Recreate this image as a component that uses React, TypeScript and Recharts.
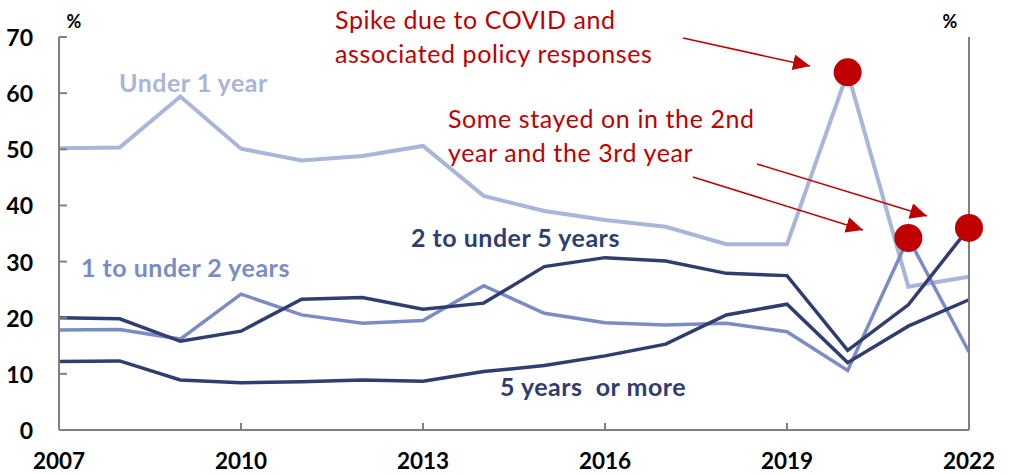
import React from "react";
import { LineChart, Line, XAxis, YAxis, ReferenceDot } from "recharts";

const years = [2007, 2008, 2009, 2010, 2011, 2012, 2013, 2014, 2015, 2016, 2017, 2018, 2019, 2020, 2021, 2022];
const under1 = [50.2, 50.3, 59.4, 50.1, 48.0, 48.8, 50.6, 41.7, 39.0, 37.4, 36.2, 33.1, 33.1, 63.7, 25.5, 27.3];
const oneToTwo = [17.8, 17.9, 16.2, 24.2, 20.5, 19.0, 19.5, 25.7, 20.8, 19.1, 18.7, 19.0, 17.5, 10.6, 34.2, 13.9];
const twoToFive = [20.0, 19.8, 15.8, 17.6, 23.3, 23.6, 21.5, 22.6, 29.1, 30.7, 30.1, 27.9, 27.5, 14.2, 22.3, 36.0];
const fivePlus = [12.2, 12.3, 8.9, 8.4, 8.6, 8.9, 8.7, 10.4, 11.5, 13.2, 15.3, 20.5, 22.4, 12.0, 18.5, 23.2];

const xTicks = [2007, 2010, 2013, 2016, 2019, 2022];
const yTicks = [0, 10, 20, 30, 40, 50, 60, 70];

const highlights = [
  { year: 2020, value: 63.7 },
  { year: 2021, value: 34.2 },
  { year: 2022, value: 36.0 },
];

const data = years.map((year, i) => ({
  year,
  under1: under1[i],
  oneToTwo: oneToTwo[i],
  twoToFive: twoToFive[i],
  fivePlus: fivePlus[i],
}));

const FONT = "Lato, 'Open Sans', sans-serif";
const AXIS = "#808080";
const LIGHT = "#A9B5D9";
const MED = "#7B8CC4";
const DARK = "#2F3E6E";
const RED = "#C00000";

const BottomTick = (props: any) => {
  const { x, y, payload } = props;
  return (
    <g>
      <line x1={x} x2={x} y1={y} y2={y - 7} stroke={AXIS} strokeWidth={2} />
      <text x={x} y={y + 30} textAnchor="middle" dominantBaseline="central" fontFamily={FONT} fontWeight={700} fontSize={22.5} fill="#000">
        {payload.value}
      </text>
    </g>
  );
};

const LeftTick = (props: any) => {
  const { x, y, payload } = props;
  return (
    <g>
      <line x1={x} x2={x + 8} y1={y} y2={y} stroke={AXIS} strokeWidth={2} />
      <text x={x - 26} y={y} textAnchor="end" dominantBaseline="central" fontFamily={FONT} fontWeight={700} fontSize={23} fill="#000">
        {payload.value}
      </text>
    </g>
  );
};

const RightTick = (props: any) => {
  const { x, y, payload } = props;
  return (
    <g>
      <line x1={x} x2={x - 8} y1={y} y2={y} stroke={AXIS} strokeWidth={2} />
      <text x={x + 24} y={y} textAnchor="start" dominantBaseline="central" fontFamily={FONT} fontWeight={700} fontSize={23} fill="#000">
        {payload.value}
      </text>
    </g>
  );
};

export default function App() {
  return (
    <div style={{ position: "absolute", left: 0, top: 0, width: 1022, height: 474, background: "#fff" }}>
      <LineChart width={1022} height={474} data={data} margin={{ top: 37, right: 0, bottom: 0, left: 0 }}>
        <XAxis
          dataKey="year"
          type="number"
          domain={[2007, 2022]}
          ticks={xTicks}
          interval={0}
          height={44}
          tickSize={0}
          tickMargin={0}
          tickLine={false}
          axisLine={{ stroke: AXIS, strokeWidth: 2 }}
          tick={<BottomTick />}
        />
        <YAxis
          yAxisId="left"
          domain={[0, 70]}
          ticks={yTicks}
          interval={0}
          width={59}
          tickSize={0}
          tickMargin={0}
          tickLine={false}
          axisLine={{ stroke: AXIS, strokeWidth: 2 }}
          tick={<LeftTick />}
        />
        <YAxis
          yAxisId="right"
          orientation="right"
          domain={[0, 70]}
          ticks={yTicks}
          interval={0}
          width={53}
          tickSize={0}
          tickMargin={0}
          tickLine={false}
          axisLine={{ stroke: AXIS, strokeWidth: 2 }}
          tick={<RightTick />}
        />
        <Line yAxisId="left" dataKey="under1" stroke={LIGHT} strokeWidth={4} dot={false} isAnimationActive={false} />
        <Line yAxisId="left" dataKey="oneToTwo" stroke={MED} strokeWidth={3.5} dot={false} isAnimationActive={false} />
        <Line yAxisId="left" dataKey="fivePlus" stroke={DARK} strokeWidth={3.5} dot={false} isAnimationActive={false} />
        <Line yAxisId="left" dataKey="twoToFive" stroke={DARK} strokeWidth={3.5} dot={false} isAnimationActive={false} />
        {highlights.map((h) => (
          <ReferenceDot key={h.year} yAxisId="left" x={h.year} y={h.value} r={14} fill={RED} stroke="none" ifOverflow="visible" />
        ))}
      </LineChart>
      <svg width={1022} height={474} style={{ position: "absolute", left: 0, top: 0, pointerEvents: "none" }}>
        <defs>
          <marker id="arrowHead" markerUnits="userSpaceOnUse" markerWidth={18} markerHeight={16} refX={17} refY={8} orient="auto">
            <path d="M0,0 L17,8 L0,16 Z" fill={RED} />
          </marker>
        </defs>
        <text x={74} y={21} textAnchor="middle" dominantBaseline="central" fontFamily={FONT} fontWeight={700} fontSize={18} fill="#000">%</text>
        <text x={950} y={21} textAnchor="middle" dominantBaseline="central" fontFamily={FONT} fontWeight={700} fontSize={18} fill="#000">%</text>

        <text x={119} y={92} fontFamily={FONT} fontWeight={700} fontSize={25} letterSpacing={0.5} fill={LIGHT}>Under 1 year</text>
        <text x={81} y={277} fontFamily={FONT} fontWeight={700} fontSize={25} letterSpacing={0.5} fill={MED}>1 to under 2 years</text>
        <text x={411} y={247} fontFamily={FONT} fontWeight={700} fontSize={25} letterSpacing={0.5} fill={DARK}>2 to under 5 years</text>
        <text x={500} y={396} fontFamily={FONT} fontWeight={700} fontSize={25} letterSpacing={0.5} fill={DARK} style={{ whiteSpace: "pre" }}>5 years  or more</text>

        <text x={335} y={29} fontFamily={FONT} fontSize={25} letterSpacing={0.6} fill={RED}>Spike due to COVID and</text>
        <text x={335} y={63} fontFamily={FONT} fontSize={25} letterSpacing={0.6} fill={RED}>associated policy responses</text>
        <text x={448} y={128} fontFamily={FONT} fontSize={25} letterSpacing={0.6} fill={RED}>Some stayed on in the 2nd</text>
        <text x={448} y={162} fontFamily={FONT} fontSize={25} letterSpacing={0.6} fill={RED}>year and the 3rd year</text>

        <line x1={683} y1={38} x2={810} y2={66} stroke={RED} strokeWidth={1.5} markerEnd="url(#arrowHead)" />
        <line x1={757} y1={164} x2={927} y2={216} stroke={RED} strokeWidth={1.5} markerEnd="url(#arrowHead)" />
        <line x1={693} y1={177} x2={863} y2={230} stroke={RED} strokeWidth={1.5} markerEnd="url(#arrowHead)" />
      </svg>
    </div>
  );
}
